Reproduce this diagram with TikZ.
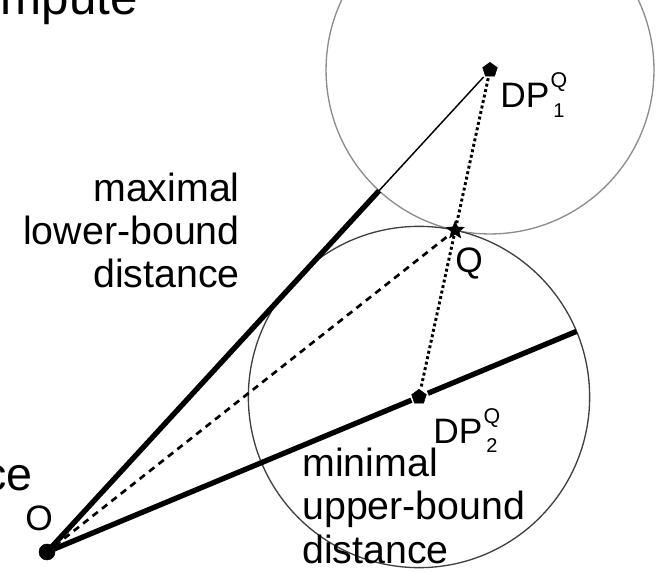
\documentclass[tikz,border=0pt]{standalone}
\usepackage{fontspec}
\setmainfont{Liberation Sans}
\usetikzlibrary{calc, positioning, shapes.geometric, backgrounds}

% DP label with stacked Q / index
\newcommand{\dplabel}[1]{DP\hspace{1pt}\makebox[0pt][l]{\raisebox{15pt}{\fontsize{16}{16}\selectfont Q}}\raisebox{-7pt}{\fontsize{15}{15}\selectfont\hspace{2pt}#1}}

\begin{document}
\begin{tikzpicture}[
  x=0.75pt, y=-0.75pt,
  font=\fontsize{26.5}{30}\selectfont,
  lbl/.style={inner sep=0pt},
  txt/.style={lbl, font=\fontsize{29.5}{32.3}\selectfont},
  pt/.style={fill=black, draw=black, inner sep=0pt, minimum size=11.5pt, outer sep=1.5pt},
  pent/.style={pt, regular polygon, regular polygon sides=5},
  bound/.style={line width=4pt},
  ring/.style={line width=1pt},
  dashline/.style={line width=2pt, dash pattern=on 5pt off 4pt},
  dotline/.style={line width=2.2pt, dash pattern=on 2.2pt off 2pt}
]
  \clip (0,0) rectangle (656,573);
  \useasboundingbox (0,0) rectangle (656,573);

  % points
  \node[pt, circle, minimum size=12pt] (o) at (47,552) {};
  \node[pent] (dp1) at (490,70) {};
  \node[pent] (dp2) at (419,397) {};
  \node[pt, star, star points=5, star point ratio=2.3, minimum size=14pt, outer sep=0.5pt] (q) at ($(dp1)!0.49!(dp2)$) {};

  % circles through Q, end points of the bounds
  \begin{scope}[on background layer]
    \draw[ring, black!45] let \p1=($(q)-(dp1)$), \n1={veclen(\x1,\y1)} in
      (dp1.center) circle[radius=\n1] coordinate (p1) at ($(dp1)!\n1!(o)$);
    \draw[ring, black!75] let \p2=($(q)-(dp2)$), \n2={veclen(\x2,\y2)} in
      (dp2.center) circle[radius=\n2] coordinate (p2) at ($(dp2)!-\n2!(o)$);
  \end{scope}

  \draw[bound] (o.center) -- (p1);
  \draw[line width=1.1pt] (p1) -- (dp1);
  \draw[bound] (o.center) -- (dp2);
  \draw[bound] (dp2) -- (p2);
  \draw[dashline] (o) -- (q);
  \draw[dotline] (dp1) -- (q);
  \draw[dotline] (q) -- (dp2);

  % labels
  \node[lbl, anchor=base west] (dp1lbl) at (500,108) {\dplabel{1}};
  \node[lbl, anchor=base west] (dp2lbl) at (433,443) {\dplabel{2}};
  \node[lbl, anchor=base west] (qlbl) at (455,273) {Q};
  \node[lbl, anchor=base west] (olbl) at (25,530) {O};
  \node[txt, align=right, anchor=base east] (maxlbl) at (240,288) {maximal\\lower-bound\\distance};
  \node[txt, align=left, anchor=base west] (minlbl) at (302,563) {minimal\\upper-bound\\distance};
  \node[lbl, font=\fontsize{37}{40}\selectfont, anchor=base east] (toptxt) at (138,15) {mpute};
  \node[lbl, font=\fontsize{35}{40}\selectfont, anchor=base east] (sidetxt) at (33,490) {ce};
\end{tikzpicture}
\end{document}
